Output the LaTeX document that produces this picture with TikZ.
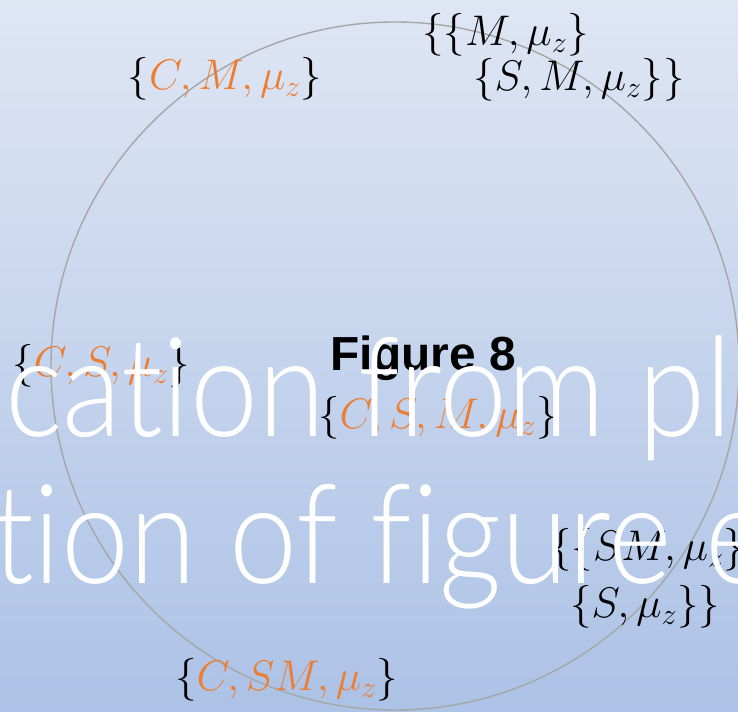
\RequirePackage{fix-cm}
\documentclass[tikz,border=0pt]{standalone}
\usepackage{fontspec}
\IfFontExistsTF{Lato Light}{\newfontfamily\wmfont{Lato Light}[Ligatures=CommonOff]}{%
  \IfFontExistsTF{Fira Sans Light}{\newfontfamily\wmfont{Fira Sans Light}[Ligatures=CommonOff]}{%
    \IfFontExistsTF{Open Sans Light}{\newfontfamily\wmfont{Open Sans Light}[Ligatures=CommonOff]}{%
      \newfontfamily\wmfont{Lato}[Ligatures=CommonOff]}}}
\newfontfamily\figfont{Liberation Sans}
\definecolor{bgtop}{HTML}{DFE6F4}
\definecolor{bgbot}{HTML}{ACC2E6}
\definecolor{orng}{HTML}{ED7D31}
\definecolor{ringgray}{HTML}{A6A6A6}
\tikzset{
  setlbl/.style={inner sep=0pt, font=\fontsize{43}{48}\selectfont},
  wmtext/.style={inner sep=0pt, text=white, xscale=0.88, transform shape, font=\wmfont\fontsize{139}{139}\selectfont},
}
\newcommand{\og}[1]{\textcolor{orng}{#1}}
\begin{document}
\begin{tikzpicture}[x=1bp,y=-1bp]
\useasboundingbox (0,0) rectangle (738,712);
\clip (0,0) rectangle (738,712);
\shade[top color=bgtop, bottom color=bgbot] (0,0) rectangle (738,712);
\draw[ringgray, line width=1.4bp] (395,366) circle[radius=344];
\node[setlbl] (cm) at (225,79) {$\{\og{C,M,\mu_z}\}$};
\node[setlbl, anchor=west] (tr1) at (422,35) {$\{\{M,\mu_z\}$};
\node[setlbl, anchor=west] (tr2) at (473,80) {$\{S,M,\mu_z\}\}$};
\node[setlbl, anchor=west] (cs) at (12,366) {$\{\og{C,S,\mu_z}\}$};
\node[inner sep=0pt, anchor=base, font=\figfont\bfseries\fontsize{48}{48}\selectfont] (fig) at (423,370) {Figure 8};
\node[setlbl, anchor=west] (csm) at (318,418) {$\{\og{C,S,M,\mu_z}\}$};
\node[setlbl, anchor=west] (br1) at (550,550) {$\{\{SM,\mu_z\}$};
\node[setlbl, anchor=west] (br2) at (570,607) {$\{S,\mu_z\}\}$};
\node[setlbl, anchor=west] (bot) at (175,680) {$\{\og{C,SM,\mu_z}\}$};
\node[wmtext, anchor=base west] (wm1) at (5,436) {cation from pl};
\node[wmtext, anchor=base west] (wm2) at (-8,583) {tion of f\kern0pt igure e};
\end{tikzpicture}
\end{document}
